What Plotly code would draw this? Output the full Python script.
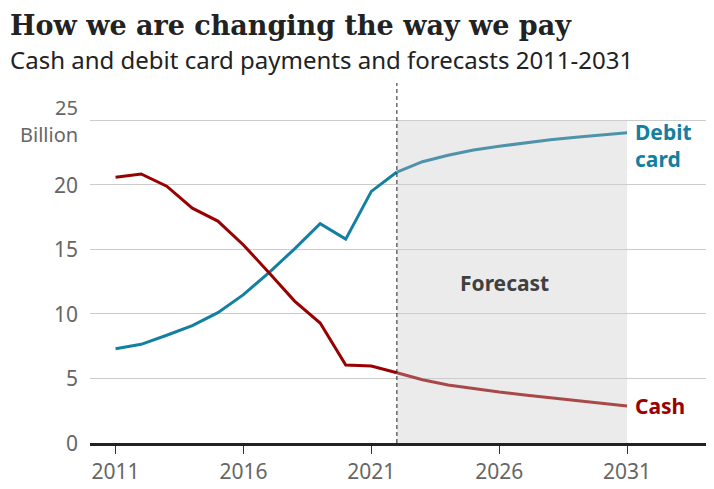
import plotly.graph_objects as go

years_hist = list(range(2011, 2023))
cash_hist = [20.6, 20.85, 19.9, 18.2, 17.2, 15.35, 13.2, 11.0, 9.3, 6.05, 5.97, 5.45]
debit_hist = [7.3, 7.65, 8.35, 9.1, 10.1, 11.5, 13.2, 15.05, 17.0, 15.8, 19.5, 21.0]

years_fc = list(range(2022, 2032))
cash_fc = [5.45, 4.9, 4.5, 4.2, 3.95, 3.72, 3.5, 3.3, 3.1, 2.87]
debit_fc = [21.0, 21.8, 22.3, 22.7, 23.0, 23.27, 23.5, 23.7, 23.9, 24.05]

x_ticks = [2011, 2016, 2021, 2026, 2031]
y_ticks = [0, 5, 10, 15, 20]

forecast_start = 2022
forecast_end = 2031

TEAL = "#1380A1"
TEAL_FC = "#4f93ab"
RED = "#990000"
RED_FC = "#a84848"
FONT = "Noto Sans"
GREY = "#666666"

fig = go.Figure()
fig.add_trace(go.Scatter(x=years_hist, y=debit_hist, mode="lines",
                         line=dict(color=TEAL, width=3), hoverinfo="skip"))
fig.add_trace(go.Scatter(x=years_fc, y=debit_fc, mode="lines",
                         line=dict(color=TEAL_FC, width=3), hoverinfo="skip"))
fig.add_trace(go.Scatter(x=years_hist, y=cash_hist, mode="lines",
                         line=dict(color=RED, width=3), hoverinfo="skip"))
fig.add_trace(go.Scatter(x=years_fc, y=cash_fc, mode="lines",
                         line=dict(color=RED_FC, width=3), hoverinfo="skip"))

shapes = [
    dict(type="rect", xref="x", yref="y", x0=forecast_start, x1=forecast_end,
         y0=0, y1=25, fillcolor="#ebebeb", line=dict(width=0), layer="below"),
    dict(type="line", xref="x", yref="paper", x0=forecast_start, x1=forecast_start,
         y0=0, y1=1, line=dict(color="#222222", width=1, dash="4px,3px")),
]

annotations = []
for v in y_ticks:
    annotations.append(dict(xref="paper", yref="y", x=0, y=v, xanchor="right",
                            yanchor="middle", xshift=-10, showarrow=False,
                            text=str(v), font=dict(family=FONT, size=21, color=GREY)))
annotations.append(dict(xref="paper", yref="y", x=0, y=26.0, xanchor="right",
                        yanchor="middle", xshift=-10, showarrow=False,
                        text="25", font=dict(family=FONT, size=20, color=GREY)))
annotations.append(dict(xref="paper", yref="y", x=0, y=23.9, xanchor="right",
                        yanchor="middle", xshift=-10, showarrow=False,
                        text="Billion", font=dict(family=FONT, size=20, color=GREY)))
annotations.append(dict(xref="x", yref="y", x=2026.2, y=12.4, showarrow=False,
                        text="<b>Forecast</b>", font=dict(family=FONT, size=21, color="#404040")))
annotations.append(dict(xref="x", yref="y", x=forecast_end, y=debit_fc[-1], xanchor="left",
                        yanchor="middle", xshift=6, yshift=-13, showarrow=False, align="left",
                        text="<b>Debit<br>card</b>", font=dict(family=FONT, size=21, color=TEAL)))
annotations.append(dict(xref="x", yref="y", x=forecast_end, y=cash_fc[-1], xanchor="left",
                        yanchor="middle", xshift=6, showarrow=False,
                        text="<b>Cash</b>", font=dict(family=FONT, size=21, color=RED)))
annotations.append(dict(xref="paper", yref="paper", x=0, y=1, xanchor="left", yanchor="top",
                        xshift=-82, yshift=75, showarrow=False,
                        text="<b>How we are changing the way we pay</b>",
                        font=dict(family="DejaVu Serif", size=27, color="#222222")))
annotations.append(dict(xref="paper", yref="paper", x=0, y=1, xanchor="left", yanchor="middle",
                        xshift=-82, yshift=24, showarrow=False,
                        text="Cash and debit card payments and forecasts 2011-2031",
                        font=dict(family=FONT, size=24, color="#222222")))

fig.update_layout(
    width=706, height=481,
    margin=dict(l=82, r=0, t=75, b=46),
    paper_bgcolor="white", plot_bgcolor="white",
    showlegend=False,
    shapes=shapes,
    annotations=annotations,
    xaxis=dict(range=[2010, 2034.4], tickvals=x_ticks, ticktext=[str(t) for t in x_ticks],
               showgrid=False, zeroline=False, showline=True, linecolor="#222222", linewidth=3,
               ticks="outside", ticklen=8, tickcolor="#333333", tickwidth=1,
               tickfont=dict(family=FONT, size=21, color=GREY)),
    yaxis=dict(range=[0, 27.9], tickvals=[0, 5, 10, 15, 20, 25], showticklabels=False,
               showgrid=True, gridcolor="#cccccc", gridwidth=1, zeroline=False,
               showline=False),
)

fig.write_html("out.html")
